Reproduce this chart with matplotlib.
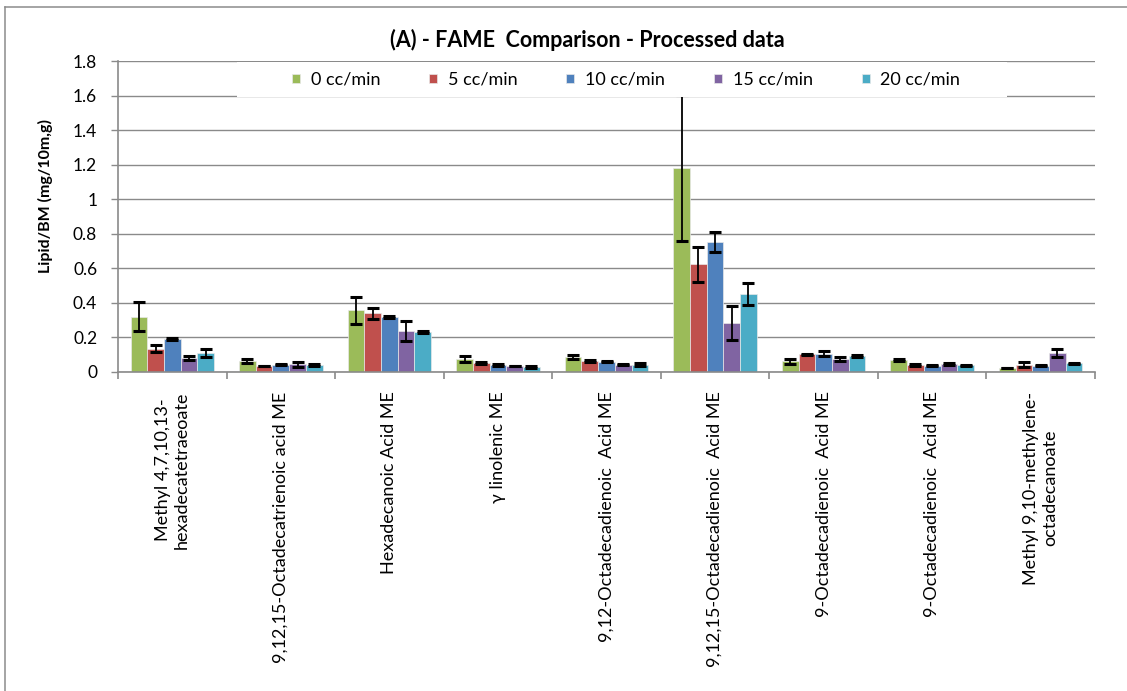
import matplotlib
matplotlib.use("Agg")
import matplotlib.pyplot as plt
import numpy as np
from matplotlib.patches import Rectangle
from matplotlib.lines import Line2D

plt.rcParams['font.family'] = ['Lato', 'DejaVu Sans']

categories = [
    "Methyl 4,7,10,13-\nhexadecatetraeoate",
    "9,12,15-Octadecatrienoic acid ME",
    "Hexadecanoic Acid ME",
    "\u03b3 linolenic ME",
    "9,12-Octadecadienoic  Acid ME",
    "9,12,15-Octadecadienoic  Acid ME",
    "9-Octadecadienoic  Acid ME",
    "9-Octadecadienoic  Acid ME",
    "Methyl 9,10-methylene-\noctadecanoate",
]
series_names = ["0 cc/min", "5 cc/min", "10 cc/min", "15 cc/min", "20 cc/min"]
colors = ["#9BBB59", "#C0504D", "#4F81BD", "#8064A2", "#4BACC6"]

flow_0 = [0.320, 0.064, 0.357, 0.073, 0.087, 1.183, 0.062, 0.069, 0.021]
flow_5 = [0.135, 0.036, 0.339, 0.050, 0.063, 0.623, 0.102, 0.040, 0.042]
flow_10 = [0.192, 0.042, 0.319, 0.040, 0.060, 0.750, 0.106, 0.035, 0.035]
flow_15 = [0.083, 0.044, 0.238, 0.035, 0.043, 0.283, 0.076, 0.044, 0.108]
flow_20 = [0.109, 0.039, 0.231, 0.031, 0.043, 0.452, 0.094, 0.039, 0.050]

err_0 = [0.085, 0.012, 0.078, 0.017, 0.013, 0.423, 0.014, 0.006, 0.000]
err_5 = [0.020, 0.000, 0.030, 0.005, 0.006, 0.100, 0.005, 0.006, 0.015]
err_10 = [0.005, 0.003, 0.005, 0.004, 0.004, 0.058, 0.014, 0.003, 0.003]
err_15 = [0.012, 0.014, 0.060, 0.000, 0.003, 0.098, 0.011, 0.006, 0.024]
err_20 = [0.023, 0.005, 0.005, 0.006, 0.008, 0.064, 0.007, 0.004, 0.004]

values = [flow_0, flow_5, flow_10, flow_15, flow_20]
errors = [err_0, err_5, err_10, err_15, err_20]
y_ticks = [0, 0.2, 0.4, 0.6, 0.8, 1, 1.2, 1.4, 1.6, 1.8]
y_tick_labels = ["0", "0.2", "0.4", "0.6", "0.8", "1", "1.2", "1.4", "1.6", "1.8"]

W, H = 1127, 691
fig = plt.figure(figsize=(W / 100, H / 100), dpi=100)
ax = fig.add_axes([118 / W, 1 - 372 / H, (1095 - 118) / W, (372 - 61) / H])

grid_col = "#8A8A8A"
x = np.arange(len(categories))
bw = 1 / 6.5
for i, (vals, errs, col, name) in enumerate(zip(values, errors, colors, series_names)):
    pos = x + (i - 2) * bw
    ax.bar(pos, vals, width=bw, color=col, edgecolor="#E8E8E8", linewidth=0.5,
           label=name, zorder=2)
    ax.errorbar(pos, vals, yerr=errs, fmt="none", ecolor="black", elinewidth=1.3,
                capsize=4, capthick=2.2, zorder=3)

ax.set_xlim(-0.5, len(categories) - 0.5)
ax.set_ylim(0, 1.8)
ax.set_yticks(y_ticks)
ax.set_yticklabels(y_tick_labels, fontsize=12.5)
ax.yaxis.grid(True, color=grid_col, linewidth=1.0)
ax.set_axisbelow(True)

ax.set_xticks(x)
ax.set_xticklabels(categories, rotation=90, fontsize=13, va="top", ha="center",
                   multialignment="center")
ax.set_xticks(np.arange(len(categories) + 1) - 0.5, minor=True)
ax.tick_params(axis="x", which="major", length=0, pad=14)
ax.tick_params(axis="x", which="minor", length=5, color=grid_col, width=1.2)
ax.tick_params(axis="y", length=5, color=grid_col, width=1.0, pad=10)

for s in ["top", "right"]:
    ax.spines[s].set_visible(False)
for s in ["left", "bottom"]:
    ax.spines[s].set_color(grid_col)
    ax.spines[s].set_linewidth(1.2)

# white backing behind the legend row
ax.add_patch(Rectangle((0.1218, 0.884), 0.910 - 0.1218, 0.997 - 0.884,
                       transform=ax.transAxes, facecolor="white",
                       edgecolor="none", zorder=4))
leg = ax.legend(loc="center", bbox_to_anchor=(0.52, 0.939), ncol=5,
                frameon=False, fontsize=13, handlelength=0.45,
                handleheight=0.45, handletextpad=0.6, columnspacing=2.7)
leg.set_zorder(5)

fig.text(587 / W, 1 - 40 / H, "(A) - FAME  Comparison - Processed data",
         ha="center", va="center", fontsize=15.5, fontweight="bold")
fig.text(45 / W, 1 - 196 / H, "Lipid/BM (mg/10m,g)", rotation=90,
         ha="center", va="center", fontsize=11.5, fontweight="bold")

# chart frame
frame_col = "#8C8C8C"
fig.add_artist(Line2D([5 / W, 5 / W], [0, 1 - 7 / H], color=frame_col,
                      linewidth=1.1, transform=fig.transFigure))
fig.add_artist(Line2D([5 / W, 1], [1 - 7 / H, 1 - 7 / H], color=frame_col,
                      linewidth=1.1, transform=fig.transFigure))

fig.savefig("out.png", dpi=100)
